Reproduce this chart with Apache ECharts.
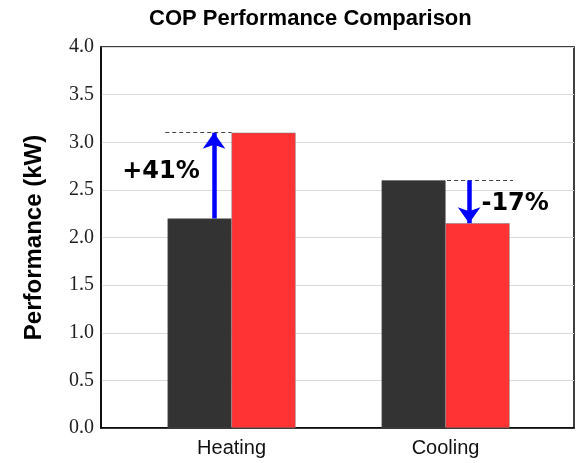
<!DOCTYPE html>
<html><head><meta charset="utf-8">
<script src="https://cdn.jsdelivr.net/npm/echarts@6/dist/echarts.min.js"></script>
<style>html,body{margin:0;padding:0;background:#fff}#c{width:585px;height:463px}</style>
</head><body><div id="c"></div>
<script>
const categories = ['Heating', 'Cooling'];
const baselineValues = [2.2, 2.6];
const newValues = [3.1, 2.15];
const changeLabels = ['+41%', '-17%'];
const yTicks = [0, 0.5, 1, 1.5, 2, 2.5, 3, 3.5, 4];

const chart = echarts.init(document.getElementById('c'));
const catIdx = categories.map((c, i) => i);
const arrowX = [-0.082, 1.11];
const dashX = [[-0.31, 0.0], [1.007, 1.315]];
const textPos = [[-0.33, 2.69], [1.325, 2.35]];

const markLines = [];
catIdx.forEach(i => {
  const from = baselineValues[i], to = newValues[i];
  const lvl = Math.max(from, to);
  markLines.push([
    {coord: [dashX[i][0], lvl], symbol: 'none', lineStyle: {color: '#444', type: [4, 3], width: 1}},
    {coord: [dashX[i][1], lvl], symbol: 'none'}
  ]);
  markLines.push([
    {coord: [arrowX[i], from], symbol: 'none', lineStyle: {color: '#0000ff', type: 'solid', width: 4.5}},
    {coord: [arrowX[i], to], symbol: 'arrow', symbolSize: [17, 16]}
  ]);
});

const sans = 'Liberation Sans, Arial, sans-serif';

chart.setOption({
  animation: false,
  title: {
    text: 'COP Performance Comparison', left: 144, top: 3,
    textStyle: {fontFamily: sans, fontSize: 22, fontWeight: 'bold', color: '#000'}
  },
  grid: {left: 101, right: 11, top: 47, bottom: 35, show: true, borderColor: '#000', borderWidth: 1.5, backgroundColor: 'transparent'},
  xAxis: {
    type: 'value', min: -0.61, max: 1.6,
    axisLine: {show: true, onZero: false, lineStyle: {color: '#000', width: 1.5}},
    axisTick: {show: false},
    splitLine: {show: false},
    axisLabel: {
      customValues: catIdx, formatter: v => categories[Math.round(v)] || '',
      fontFamily: sans, fontSize: 20, color: '#111', margin: 10
    }
  },
  yAxis: {
    type: 'value', min: yTicks[0], max: yTicks[yTicks.length - 1], interval: 0.5,
    name: 'Performance (kW)', nameLocation: 'middle', nameGap: 55,
    nameTextStyle: {fontFamily: sans, fontSize: 24, fontWeight: 'bold', color: '#000'},
    axisLine: {show: true, onZero: false, lineStyle: {color: '#000', width: 1.5}},
    axisTick: {show: false},
    splitLine: {show: true, lineStyle: {color: '#d9d9d9', width: 1}},
    axisLabel: {
      formatter: v => v.toFixed(1), fontFamily: 'Liberation Serif, Times New Roman, serif',
      fontSize: 20, color: '#222', margin: 7
    }
  },
  series: [
    {
      type: 'bar', name: 'Baseline', barWidth: 64, barGap: '0%',
      data: catIdx.map(i => [i, baselineValues[i]]),
      itemStyle: {color: '#333333', borderColor: '#555', borderWidth: 0.5},
      z: 2
    },
    {
      type: 'bar', name: 'New', barWidth: 64, barGap: '0%',
      data: catIdx.map(i => [i, newValues[i]]),
      itemStyle: {color: '#ff3333', borderColor: '#777', borderWidth: 0.5},
      z: 2
    },
    {
      type: 'scatter', name: 'annotations', data: [], z: 5,
      markLine: {silent: true, animation: false, label: {show: false}, data: markLines},
      markPoint: {
        silent: true, symbol: 'circle', symbolSize: 0,
        label: {show: true, position: 'inside', fontFamily: 'DejaVu Sans, Verdana, sans-serif', fontSize: 24, fontWeight: 'bold', color: '#000',
          formatter: p => p.name},
        data: catIdx.map(i => ({name: changeLabels[i], coord: textPos[i]}))
      }
    }
  ]
});
</script></body></html>
